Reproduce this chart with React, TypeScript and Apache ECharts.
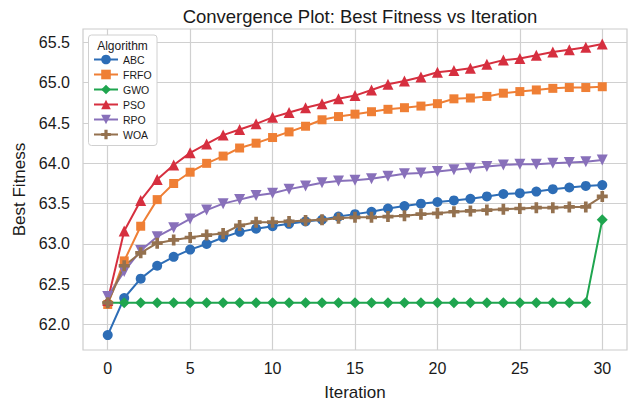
import React, { useEffect, useRef } from "react";
import * as echarts from "echarts";

const iterations = [0, 1, 2, 3, 4, 5, 6, 7, 8, 9, 10, 11, 12, 13, 14, 15, 16, 17, 18, 19, 20, 21, 22, 23, 24, 25, 26, 27, 28, 29, 30];

const ABC = [61.87, 62.33, 62.57, 62.73, 62.84, 62.93, 63.0, 63.08, 63.15, 63.19, 63.22, 63.25, 63.28, 63.3, 63.34, 63.37, 63.4, 63.44, 63.47, 63.5, 63.52, 63.54, 63.56, 63.59, 63.62, 63.63, 63.65, 63.68, 63.7, 63.72, 63.73];
const FRFO = [62.25, 62.79, 63.22, 63.55, 63.75, 63.89, 64.0, 64.09, 64.19, 64.25, 64.32, 64.39, 64.46, 64.54, 64.58, 64.61, 64.64, 64.67, 64.69, 64.71, 64.74, 64.8, 64.81, 64.83, 64.87, 64.89, 64.91, 64.93, 64.94, 64.94, 64.95];
const GWO = [62.27, 62.27, 62.27, 62.27, 62.27, 62.27, 62.27, 62.27, 62.27, 62.27, 62.27, 62.27, 62.27, 62.27, 62.27, 62.27, 62.27, 62.27, 62.27, 62.27, 62.27, 62.27, 62.27, 62.27, 62.27, 62.27, 62.27, 62.27, 62.27, 62.27, 63.3];
const PSO = [62.3, 63.16, 63.54, 63.8, 63.98, 64.13, 64.24, 64.35, 64.42, 64.49, 64.57, 64.63, 64.69, 64.74, 64.8, 64.84, 64.91, 64.98, 65.02, 65.07, 65.13, 65.15, 65.18, 65.23, 65.28, 65.3, 65.34, 65.38, 65.41, 65.44, 65.48];
const RPO = [62.35, 62.66, 62.92, 63.09, 63.2, 63.31, 63.42, 63.5, 63.55, 63.6, 63.63, 63.68, 63.72, 63.76, 63.78, 63.79, 63.81, 63.84, 63.87, 63.88, 63.9, 63.92, 63.94, 63.96, 63.98, 63.99, 63.99, 64.0, 64.01, 64.02, 64.04];
const WOA = [62.27, 62.73, 62.89, 63.01, 63.05, 63.08, 63.11, 63.13, 63.23, 63.27, 63.27, 63.28, 63.29, 63.3, 63.32, 63.33, 63.33, 63.34, 63.35, 63.37, 63.38, 63.4, 63.41, 63.42, 63.43, 63.44, 63.45, 63.45, 63.46, 63.46, 63.59];

const xTicks = [0, 5, 10, 15, 20, 25, 30];
const yTicks = [62.0, 62.5, 63.0, 63.5, 64.0, 64.5, 65.0, 65.5];

const PLUS = "path://M-1,-3L1,-3L1,-1L3,-1L3,1L1,1L1,3L-1,3L-1,1L-3,1L-3,-1L-1,-1Z";

const seriesDefs = [
  { name: "ABC", data: ABC, color: "#2d6db6", symbol: "circle", size: 10, rotate: 0 },
  { name: "FRFO", data: FRFO, color: "#ef7f35", symbol: "rect", size: 9, rotate: 0 },
  { name: "GWO", data: GWO, color: "#1fa54f", symbol: "diamond", size: 11, rotate: 0 },
  { name: "PSO", data: PSO, color: "#d62f3f", symbol: "triangle", size: 11, rotate: 0 },
  { name: "RPO", data: RPO, color: "#8870ba", symbol: "triangle", size: 11, rotate: 180 },
  { name: "WOA", data: WOA, color: "#94714f", symbol: PLUS, size: 11, rotate: 0 },
];

const FONT = "Liberation Sans, Arial, sans-serif";

export default function App() {
  const ref = useRef<HTMLDivElement>(null);
  useEffect(() => {
    if (!ref.current) return;
    const chart = echarts.init(ref.current, null, { renderer: "svg" });
    chart.setOption({
      animation: false,
      backgroundColor: "#ffffff",
      title: {
        text: "Convergence Plot: Best Fitness vs Iteration",
        left: 355,
        top: 2,
        textAlign: "center",
        textStyle: { fontFamily: FONT, fontSize: 18.5, fontWeight: "normal", color: "#1a1a1a" },
      },
      grid: {
        left: 83,
        right: 1,
        top: 29,
        bottom: 55,
        show: true,
        borderColor: "#cccccc",
        borderWidth: 1.2,
        backgroundColor: "#ffffff",
      },
      legend: {
        orient: "vertical",
        left: 93,
        top: 54,
        padding: 0,
        itemWidth: 24,
        itemHeight: 12,
        itemGap: 4,
        textStyle: { fontFamily: FONT, fontSize: 10.5, color: "#1a1a1a" },
        data: seriesDefs.map((s) => s.name),
      },
      graphic: [
        {
          type: "rect",
          shape: { x: 88.5, y: 35, width: 68.5, height: 110.5, r: 3 },
          style: { fill: "#ffffff", stroke: "#d0d0d0", lineWidth: 1 },
          z: 1,
        },
        {
          type: "text",
          x: 122.5,
          y: 45.5,
          style: {
            text: "Algorithm",
            fontFamily: FONT,
            fontSize: 12,
            fill: "#1a1a1a",
            align: "center",
            verticalAlign: "middle",
          },
          z: 2,
        },
      ],
      xAxis: {
        type: "value",
        min: -1.5,
        max: 31.5,
        name: "Iteration",
        nameLocation: "middle",
        nameGap: 34,
        nameTextStyle: { fontFamily: FONT, fontSize: 17, color: "#1a1a1a" },
        axisLine: { show: false },
        axisTick: { show: false, customValues: xTicks },
        axisLabel: {
          customValues: xTicks,
          fontFamily: FONT,
          fontSize: 16,
          color: "#1a1a1a",
          margin: 10,
        },
        splitLine: { show: true, lineStyle: { color: "#d0d0d0", width: 1.2 } },
      },
      yAxis: {
        type: "value",
        min: 61.685,
        max: 65.666,
        name: "Best Fitness",
        nameLocation: "middle",
        nameGap: 53,
        nameTextStyle: { fontFamily: FONT, fontSize: 17, color: "#1a1a1a" },
        axisLine: { show: false },
        axisTick: { show: false, customValues: yTicks },
        axisLabel: {
          customValues: yTicks,
          fontFamily: FONT,
          fontSize: 16,
          color: "#1a1a1a",
          margin: 13,
          formatter: (v: number) => v.toFixed(1),
        },
        splitLine: { show: true, lineStyle: { color: "#d0d0d0", width: 1.2 } },
      },
      series: seriesDefs.map((s) => ({
        name: s.name,
        type: "line",
        data: iterations.map((it, i) => [it, s.data[i]]),
        symbol: s.symbol,
        symbolSize: s.size,
        symbolRotate: s.rotate,
        showAllSymbol: true,
        color: s.color,
        lineStyle: { color: s.color, width: 2 },
        itemStyle: { color: s.color, borderColor: s.color, borderWidth: 0 },
        z: 3,
      })),
    });
    return () => chart.dispose();
  }, []);
  return (
    <div
      ref={ref}
      style={{ position: "fixed", left: 0, top: 0, width: 628, height: 406 }}
    />
  );
}
